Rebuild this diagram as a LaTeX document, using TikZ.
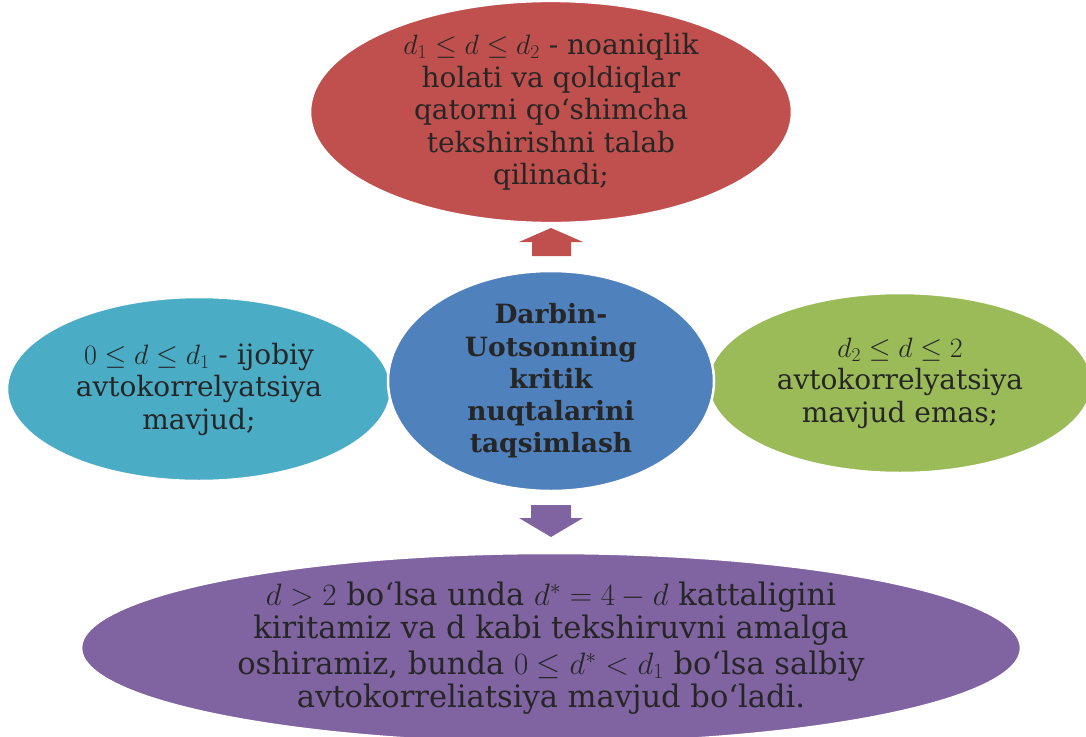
\RequirePackage{fix-cm}
\documentclass[tikz,border=0pt]{standalone}
\usepackage{fontspec}
\setmainfont{DejaVu Serif}
\newfontfamily\condfont[FakeStretch=0.985]{DejaVu Serif}
\usetikzlibrary{shapes.geometric}
\definecolor{cred}{HTML}{C0504D}
\definecolor{cblue}{HTML}{4F81BD}
\definecolor{cteal}{HTML}{4BACC6}
\definecolor{cgreen}{HTML}{9BBB59}
\definecolor{cpurple}{HTML}{8064A2}
\definecolor{ctext}{HTML}{262626}
\tikzset{
  oval/.style={ellipse, draw=white, line width=2.5pt, inner sep=0pt, align=center, text=ctext,
    font=\fontsize{28}{32.5}\selectfont}
}
\begin{document}
\begin{tikzpicture}[x=1pt,y=-1pt]
\useasboundingbox[fill=white] (0,0) rectangle (1086,736);
\node[oval, fill=cteal, minimum width=384, minimum height=184] (left) at (199,389)
  {$0\le d\le d_1$ - ijobiy\\avtokorrelyatsiya\\mavjud;};
\node[oval, fill=cgreen, minimum width=384, minimum height=180] (right) at (900,383)
  {$d_2\le d\le 2$\\avtokorrelyatsiya\\mavjud emas;};
\node[oval, fill=cblue, minimum width=326, minimum height=220, font=\bfseries\fontsize{26.5}{32.3}\selectfont] (center) at (551,381)
  {Darbin-\\Uotsonning\\kritik\\nuqtalarini\\taqsimlash};
\node[oval, fill=cred, minimum width=482, minimum height=204] (top) at (551,112)
  {$d_1\le d\le d_2$ - noaniqlik\\holati va qoldiqlar\\qatorni qo‘shimcha\\tekshirishni talab\\qilinadi;};
\node[oval, fill=cpurple, minimum width=940, minimum height=190, font=\condfont\fontsize{31}{33}\selectfont] (bottom) at (551,648)
  {$d>2$ bo‘lsa unda $d^*=4-d$ kattaligini\\kiritamiz va d kabi tekshiruvni amalga\\[3pt]oshiramiz, bunda $0\le d^*<d_1$ bo‘lsa salbiy\\avtokorreliatsiya mavjud bo‘ladi.};
\fill[cred] (532,256) -- (532,242) -- (519,242) -- (551,228) -- (583,242) -- (571,242) -- (571,256) -- cycle;
\fill[cpurple] (531,505) -- (571,505) -- (571,518) -- (583,518) -- (551,537) -- (519,518) -- (531,518) -- cycle;
\end{tikzpicture}
\end{document}
